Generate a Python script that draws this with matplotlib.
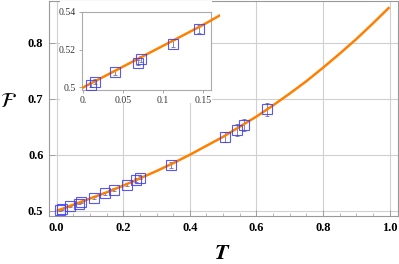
import matplotlib
matplotlib.use("Agg")
import matplotlib.pyplot as plt
from matplotlib.patches import Rectangle
from matplotlib.ticker import MultipleLocator

plt.rcParams['mathtext.fontset'] = 'stix'

# theory curve
curve_T = [0.0, 0.05, 0.1, 0.15, 0.2, 0.25, 0.3, 0.35, 0.4, 0.45, 0.5,
           0.55, 0.6, 0.65, 0.7, 0.75, 0.8, 0.85, 0.9, 0.95, 1.0]
curve_F = [0.500, 0.511, 0.522, 0.533, 0.545, 0.558, 0.571, 0.585, 0.600, 0.616, 0.632,
           0.650, 0.668, 0.688, 0.709, 0.731, 0.755, 0.780, 0.806, 0.834, 0.863]

# data points
pts_T = [0.010, 0.015, 0.040, 0.068, 0.072, 0.112, 0.145, 0.172, 0.212, 0.237, 0.250,
         0.343, 0.506, 0.541, 0.563, 0.633]
pts_F = [0.5015, 0.503, 0.508, 0.513, 0.515, 0.523, 0.531, 0.538, 0.547, 0.555, 0.559,
         0.582, 0.632, 0.644, 0.653, 0.681]
pts_err = [0.0012, 0.0012, 0.0013, 0.0014, 0.0015, 0.0018, 0.002, 0.002, 0.0025, 0.003, 0.003,
           0.005, 0.009, 0.010, 0.010, 0.012]

x_ticks = [0.0, 0.2, 0.4, 0.6, 0.8, 1.0]
x_labels = ["0.0", "0.2", "0.4", "0.6", "0.8", "1.0"]
y_ticks = [0.5, 0.6, 0.7, 0.8]
y_labels = ["0.5", "0.6", "0.7", "0.8"]

in_x_ticks = [0.0, 0.05, 0.1, 0.15]
in_x_labels = ["0.", "0.05", "0.1", "0.15"]
in_y_ticks = [0.5, 0.52, 0.54]
in_y_labels = ["0.5", "0.52", "0.54"]

orange = '#ff8000'
blue = '#3c3cf0'
errc = '#7070b0'
frame = '#999999'
grid = '#d0d0d0'

fig = plt.figure(figsize=(3.99, 2.64), dpi=100)
ax = fig.add_axes([49/399, 48/264, 348.5/399, 215/264])
ax.set_xlim(-0.023, 1.024)
ax.set_ylim(0.4909, 0.874)

for xv in x_ticks:
    ax.axvline(xv, color=grid, lw=0.8, zorder=0)
for yv in y_ticks:
    ax.axhline(yv, color=grid, lw=0.8, zorder=0)

ax.plot(curve_T, curve_F, color=orange, lw=1.8, zorder=3, solid_capstyle='butt')
ax.errorbar(pts_T, pts_F, yerr=pts_err, fmt='none', ecolor=errc, elinewidth=0.6,
            capsize=1.5, capthick=0.6, zorder=2)
ax.plot(pts_T, pts_F, ls='none', marker='s', ms=7.2, mfc='none', mec=blue, mew=0.8,
        alpha=0.85, zorder=4)

ax.set_xticks(x_ticks)
ax.set_xticklabels(x_labels)
ax.set_yticks(y_ticks)
ax.set_yticklabels(y_labels)
ax.xaxis.set_minor_locator(MultipleLocator(0.05))
ax.tick_params(which='both', direction='in', color=frame, top=False, right=False)
ax.tick_params(which='major', length=4, width=0.6, pad=4)
ax.tick_params(which='minor', length=2, width=0.5)
for lab in ax.get_xticklabels() + ax.get_yticklabels():
    lab.set_fontfamily('Liberation Serif')
    lab.set_fontweight('bold')
    lab.set_fontsize(9)
for s in ax.spines.values():
    s.set_color(frame)
    s.set_linewidth(0.8)

# white backing for inset (covers grid behind inset and its labels)
ax.add_patch(Rectangle((60/399, (264-103)/264), (212-60)/399, 103/264,
                       transform=fig.transFigure, facecolor='white', edgecolor='none',
                       zorder=5))

fig.text(222/399, 1 - 253/264, r'$\boldsymbol{T}$', fontsize=16, ha='center', va='center')
fig.text(8/399, 1 - 101/264, r'$\mathcal{F}$', fontsize=15, ha='center', va='center')

# inset
ins = fig.add_axes([81.7/399, (264-90)/264, (211/399 - 81.7/399), (90-11.7)/264])
ins.set_xlim(-0.002, 0.160)
ins.set_ylim(0.4986, 0.540)
clip = Rectangle((81.7/399, (264-90)/264), (220-81.7)/399, (90-11.7)/264,
                 transform=fig.transFigure, facecolor='none', edgecolor='none')
line, = ins.plot(curve_T, curve_F, color=orange, lw=1.8, zorder=3)
line.set_clip_on(True)
line.set_clip_path(clip)
ins.errorbar(pts_T, pts_F, yerr=pts_err, fmt='none', ecolor=errc, elinewidth=0.6,
             capsize=1.5, capthick=0.6, zorder=2)
ins.plot(pts_T, pts_F, ls='none', marker='s', ms=7.2, mfc='none', mec=blue, mew=0.8,
         alpha=0.85, zorder=4)
ins.set_xticks(in_x_ticks)
ins.set_xticklabels(in_x_labels)
ins.set_yticks(in_y_ticks)
ins.set_yticklabels(in_y_labels)
ins.tick_params(which='both', direction='out', color=frame, top=False, right=False)
ins.tick_params(which='major', length=2.5, width=0.6, pad=2, labelsize=7)
for lab in ins.get_xticklabels() + ins.get_yticklabels():
    lab.set_fontfamily('Liberation Serif')
    lab.set_color('#333333')
for s in ins.spines.values():
    s.set_color('#aaaaaa')
    s.set_linewidth(0.8)

fig.savefig('out.png', dpi=100)
